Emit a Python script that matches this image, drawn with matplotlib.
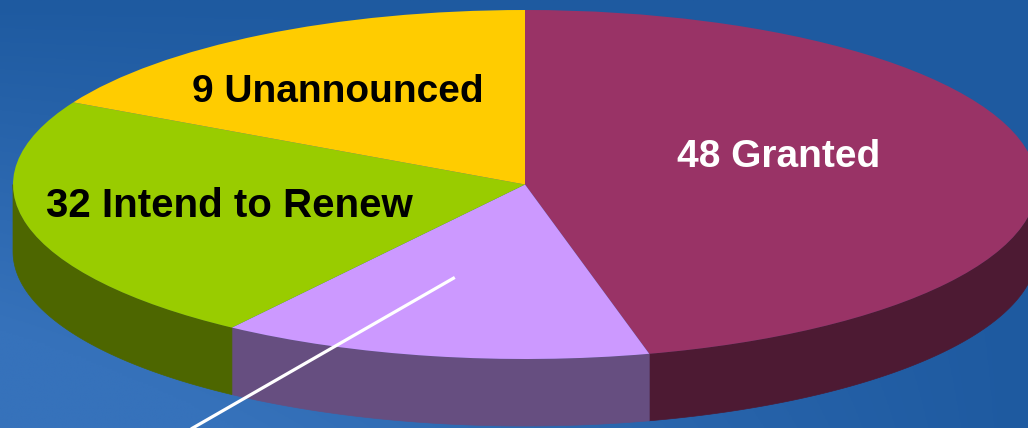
import numpy as np
import matplotlib.pyplot as plt
from matplotlib.patches import Polygon
from matplotlib.colors import to_rgb

# slices clockwise from 12 o'clock, share of the pie (%)
labels = ['48 Granted', '', '32 Intend to Renew', '9 Unannounced']
shares = [46.1, 13.6, 23.1, 17.2]

top_colors = ['#993366', '#CC99FF', '#99CC00', '#FFCC00']
side_colors = ['#4D1A33', '#664E80', '#4D6600', '#806600']
text_colors = ['white', 'black', 'black', 'black']

depth = 0.384          # thickness of the pie (in units of the minor radius)
xlim = (-1.0254, 0.9824)
ylim = (-1.3954, 1.0573)

fig = plt.figure(figsize=(10.28, 4.28), dpi=100)
ax = fig.add_axes([0, 0, 1, 1])

# blue backdrop, a bit lighter towards the lower left
ny, nx = 200, 400
gx = np.linspace(0, 1, nx)[None, :]
gy = np.linspace(0, 1, ny)[:, None]
w = np.clip(gy * (1 - gx) * 1.3, 0, 1)
c0 = np.array(to_rgb('#1E5AA0'))
c1 = np.array(to_rgb('#3672BB'))
bg = c0 + (c1 - c0) * w[..., None]
ax.imshow(bg, extent=(xlim[0], xlim[1], ylim[0], ylim[1]), origin='upper',
          aspect='auto', zorder=0)

# top face
wedges, _ = ax.pie(shares, colors=top_colors, startangle=90, counterclock=False,
                   radius=1, center=(0, 0), wedgeprops=dict(linewidth=0))
for wd in wedges:
    wd.set_zorder(3)

# side walls, only the front half (-180..0 deg) can be seen
bounds = 90 - np.cumsum([0] + shares) / 100 * 360
for i in range(len(shares)):
    a = max(bounds[i + 1], -180)
    b = min(bounds[i], 0)
    if a >= b:
        continue
    t = np.radians(np.linspace(a, b, 100))
    xs, ys = np.cos(t), np.sin(t)
    pts = np.concatenate([np.column_stack([xs, ys]),
                          np.column_stack([xs[::-1], ys[::-1] - depth])])
    ax.add_patch(Polygon(pts, closed=True, facecolor=side_colors[i],
                         edgecolor=side_colors[i], linewidth=0.5, zorder=2))

# slice labels
label_xy = {0: (0.495, 0.100), 2: (-0.578, -0.186), 3: (-0.366, 0.473)}
label_size = {0: 28, 2: 29, 3: 28}
for i, (x, y) in label_xy.items():
    ax.text(x, y, labels[i], ha='center', va='baseline', fontsize=label_size[i],
            fontweight='bold', family='Liberation Sans', color=text_colors[i],
            zorder=5)

# leader line from the purple slice towards its label (off the picture)
mid = np.radians((bounds[1] + bounds[2]) / 2 - 4)
start = (0.55 * np.cos(mid), 0.55 * np.sin(mid))
ax.plot([start[0], -0.80], [start[1], -1.65], color='white', lw=2.3,
        solid_capstyle='butt', zorder=6)

ax.set_aspect('auto')
ax.set_xlim(*xlim)
ax.set_ylim(*ylim)
ax.axis('off')

fig.savefig('out.png', dpi=100)
